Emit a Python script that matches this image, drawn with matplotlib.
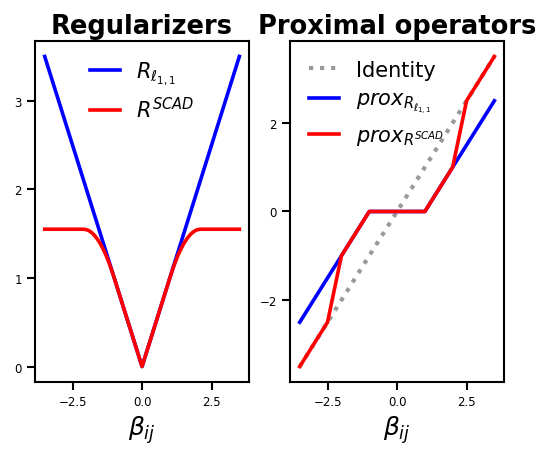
import numpy as np
import matplotlib.pyplot as plt

#----------------------------------------------------------------
# values

# left panel: regularizers
l1_x = [-3.5, 0.0, 3.5]
l1_y = [3.5, 0.0, 3.5]

scad_x = [-3.5, -2.1, -2.0, -1.9, -1.8, -1.7, -1.6, -1.5, -1.4, -1.3, -1.2, -1.1, -1.0, 0.0,
          1.0, 1.1, 1.2, 1.3, 1.4, 1.5, 1.6, 1.7, 1.8, 1.9, 2.0, 2.1, 3.5]
scad_y = [1.55, 1.55, 1.545, 1.532, 1.509, 1.477, 1.436, 1.386, 1.327, 1.259, 1.182, 1.095, 1.0, 0.0,
          1.0, 1.095, 1.182, 1.259, 1.327, 1.386, 1.436, 1.477, 1.509, 1.532, 1.545, 1.55, 1.55]

# right panel: proximal operators
ident_x = [-3.5, 3.5]
ident_y = [-3.5, 3.5]

prox_l1_x = [-3.5, -1.0, 1.0, 3.5]
prox_l1_y = [-2.5, 0.0, 0.0, 2.5]

prox_scad_x = [-3.5, -2.5, -2.0, -1.0, 1.0, 2.0, 2.5, 3.5]
prox_scad_y = [-3.5, -2.5, -1.0, 0.0, 0.0, 1.0, 2.5, 3.5]

xticks = [-2.5, 0.0, 2.5]

#----------------------------------------------------------------
# figure

fig = plt.figure(figsize=(5.38, 4.56), dpi=100)
ax1 = fig.add_axes([0.065, 0.160, 0.398, 0.748])
ax2 = fig.add_axes([0.539, 0.160, 0.398, 0.748])

lw = 2.6

ax1.plot(l1_x, l1_y, color='blue', lw=lw, label=r'$R_{\ell_{1,1}}$')
ax1.plot(scad_x, scad_y, color='red', lw=lw, label=r'$R^{SCAD}$')
ax1.set_title('Regularizers', fontsize=18.5, fontweight='bold')
ax1.set_yticks([0, 1, 2, 3])
ax1.legend(loc='upper center', frameon=False, fontsize=15, handlelength=1.45,
           labelspacing=0.45, borderaxespad=0.5)

ax2.plot(ident_x, ident_y, color='#999999', ls=':', lw=3, label='Identity')
ax2.plot(prox_l1_x, prox_l1_y, color='blue', lw=lw, label=r'$prox_{R_{\ell_{1,1}}}$')
ax2.plot(prox_scad_x, prox_scad_y, color='red', lw=lw, label=r'$prox_{R^{SCAD}}$')
ax2.set_title('Proximal operators', fontsize=18.5, fontweight='bold')
ax2.set_yticks([-2, 0, 2])
ax2.legend(loc='upper left', frameon=False, fontsize=15, handlelength=1.45,
           labelspacing=0.45, borderaxespad=0.5)

for ax in (ax1, ax2):
    ax.set_xticks(xticks)
    ax.set_xlabel(r'$\beta_{ij}$', fontsize=18)
    ax.tick_params(labelsize=8.5, length=6, width=1.5)
    for sp in ax.spines.values():
        sp.set_linewidth(1.5)

fig.savefig('out.png', dpi=100)
